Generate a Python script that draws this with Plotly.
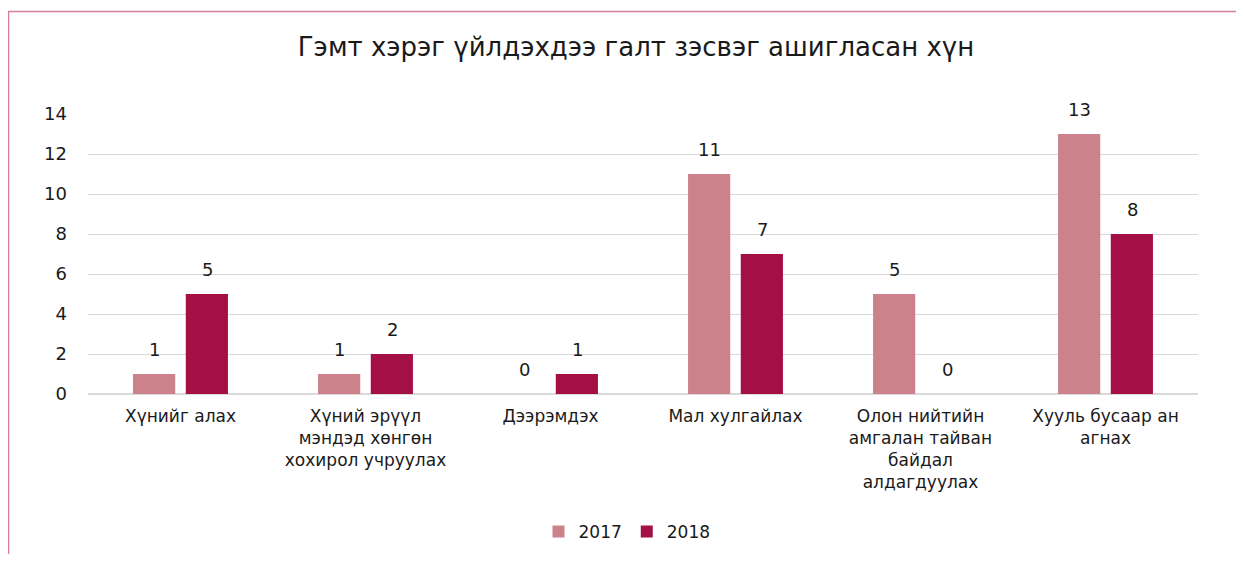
import plotly.graph_objects as go

categories = ["Хүнийг алах",
              "Хүний эрүүл<br>мэндэд хөнгөн<br>хохирол учруулах",
              "Дээрэмдэх",
              "Мал хулгайлах",
              "Олон нийтийн<br>амгалан тайван<br>байдал<br>алдагдуулах",
              "Хууль бусаар ан<br>агнах"]
v2017 = [1, 1, 0, 11, 5, 13]
v2018 = [5, 2, 1, 7, 0, 8]
series = [("2017", v2017, "#CC828B"), ("2018", v2018, "#A41045")]

FONT = "DejaVu Sans"
TXT = "#1a1a1a"
fig = go.Figure()
for name, vals, col in series:
    fig.add_trace(go.Bar(x=categories, y=vals, name=name, marker_color=col,
                         marker_line_width=0))

ann = []
for i, (name, vals, col) in enumerate(series):
    shift = -26.5 if i == 0 else 26.5
    for c, v in zip(categories, vals):
        ann.append(dict(x=c, y=v, xref="x", yref="y", text=str(v), showarrow=False,
                        xshift=shift, yshift=12, yanchor="bottom",
                        font=dict(family=FONT, size=18, color=TXT)))

OFF = 8  # page offset of the figure in the screenshot
W, H = 1244 - 2 * OFF, 562 - 2 * OFF
l, r = 88 - OFF, W - (1198 - OFF)
t, b = 114 - OFF, H - (394 - OFF)
pw, ph = W - l - r, H - t - b
def px(x): return (x - OFF - l) / pw
def py(y): return (H - b - (y - OFF)) / ph

fig.update_layout(
    width=W, height=H,
    margin=dict(l=l, r=r, t=t, b=b, autoexpand=False),
    paper_bgcolor="white", plot_bgcolor="white",
    barmode="group", bargap=0.43, bargroupgap=0.2,
    title=dict(text="Гэмт хэрэг үйлдэхдээ галт зэсвэг ашигласан хүн",
               x=px(636), xanchor="center", xref="paper", y=1 - (47 - OFF) / H, yanchor="middle",
               font=dict(family=FONT, size=26, color=TXT)),
    font=dict(family=FONT, color=TXT),
    xaxis=dict(showgrid=False, showline=False, ticks="", ticklabelstandoff=10,
               tickfont=dict(size=17, color=TXT)),
    yaxis=dict(range=[0, 14], dtick=2, showgrid=True, gridcolor="#D9D9D9", gridwidth=1,
               zeroline=True, zerolinecolor="#D9D9D9", zerolinewidth=1.5,
               ticks="", ticklabelstandoff=20, tickfont=dict(size=18, color=TXT)),
    legend=dict(orientation="h", x=px(627), xanchor="center",
                yref="container", y=1 - (532 - OFF) / H, yanchor="middle",
                font=dict(size=17, color=TXT), itemwidth=30, traceorder="normal"),
    annotations=ann,
    shapes=[dict(type="rect", xref="paper", yref="paper",
                 x0=px(8.5), x1=px(1260), y0=py(580), y1=py(11.5),
                 line=dict(color="#D67E9E", width=1.5), layer="below")],
)
fig.write_html("out.html")
